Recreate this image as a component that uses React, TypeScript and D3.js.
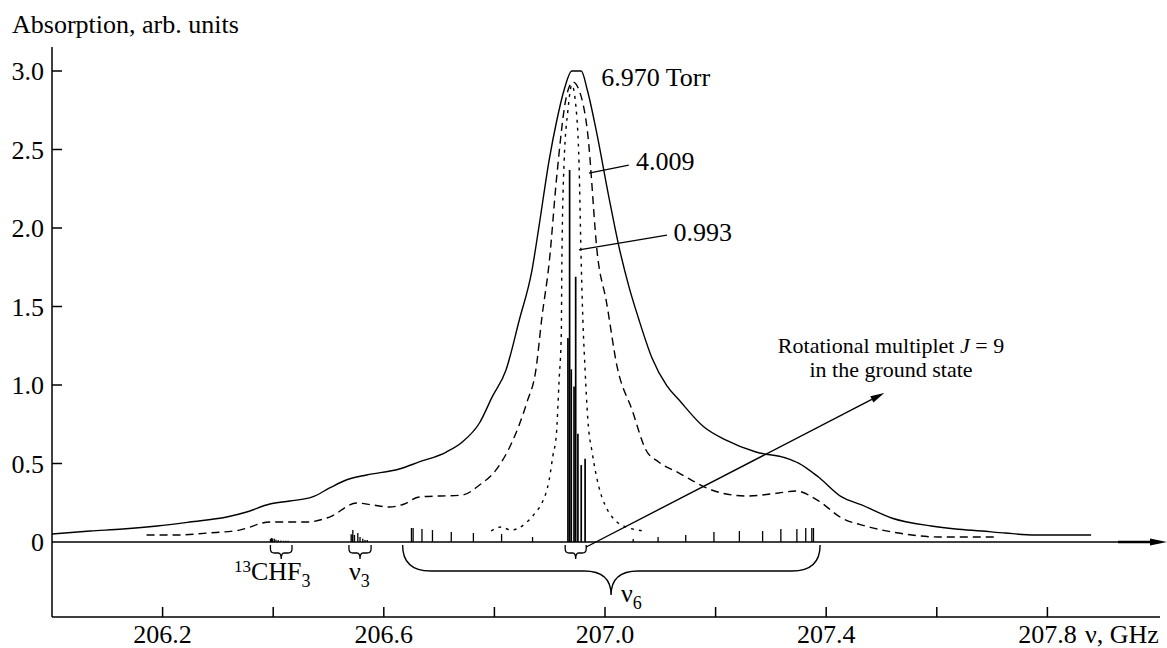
import React from "react";
import * as d3 from "d3";

// Frequency (GHz) and absorption (arb. units) samples for each pressure
const p6970: [number, number][] = [
  [206.0, 0.051], [206.069, 0.07], [206.128, 0.083], [206.19, 0.102], [206.249, 0.127],
  [206.316, 0.159], [206.352, 0.191], [206.394, 0.242], [206.43, 0.261], [206.471, 0.287],
  [206.502, 0.344], [206.532, 0.395], [206.569, 0.427], [206.628, 0.465], [206.664, 0.51],
  [206.713, 0.573], [206.742, 0.637], [206.773, 0.758], [206.796, 0.924], [206.821, 1.096],
  [206.845, 1.414], [206.868, 1.732], [206.881, 2.019], [206.899, 2.433], [206.913, 2.688],
  [206.926, 2.879], [206.94, 3.0], [206.957, 3.0], [206.968, 2.879], [206.984, 2.624],
  [207.007, 2.197], [207.025, 1.885], [207.043, 1.63], [207.061, 1.42], [207.085, 1.172],
  [207.112, 0.994], [207.134, 0.904], [207.179, 0.732], [207.218, 0.65], [207.273, 0.573],
  [207.327, 0.535], [207.35, 0.503], [207.386, 0.414], [207.428, 0.287], [207.464, 0.236],
  [207.518, 0.153], [207.59, 0.102], [207.634, 0.083], [207.681, 0.07], [207.724, 0.057],
  [207.778, 0.045], [207.879, 0.045],
];

const p4009: [number, number][] = [
  [206.171, 0.045], [206.231, 0.045], [206.28, 0.057], [206.339, 0.076], [206.394, 0.127],
  [206.46, 0.127], [206.502, 0.159], [206.551, 0.248], [206.579, 0.236], [206.61, 0.223],
  [206.637, 0.242], [206.664, 0.287], [206.742, 0.299], [206.773, 0.363], [206.803, 0.459],
  [206.832, 0.637], [206.859, 0.892], [206.875, 1.096], [206.886, 1.433], [206.899, 1.777],
  [206.913, 2.338], [206.93, 2.834], [206.942, 2.93], [206.953, 2.879], [206.968, 2.624],
  [206.987, 1.809], [207.002, 1.541], [207.022, 1.115], [207.049, 0.841], [207.074, 0.586],
  [207.097, 0.51], [207.134, 0.439], [207.193, 0.331], [207.255, 0.293], [207.314, 0.312],
  [207.345, 0.325], [207.386, 0.262], [207.428, 0.153], [207.471, 0.102], [207.531, 0.057],
  [207.603, 0.032], [207.711, 0.032],
];

const p0993: [number, number][] = [
  [206.794, 0.07], [206.812, 0.096], [206.83, 0.076], [206.857, 0.121], [206.875, 0.191],
  [206.886, 0.248], [206.899, 0.395], [206.906, 0.554], [206.912, 0.682], [206.917, 1.032],
  [206.921, 1.331], [206.922, 1.777], [206.926, 2.414], [206.933, 2.752], [206.94, 2.911],
  [206.948, 2.752], [206.953, 2.414], [206.957, 1.777], [206.96, 1.414], [206.964, 1.096],
  [206.969, 0.777], [206.977, 0.567], [206.989, 0.35], [207.0, 0.236], [207.013, 0.159],
  [207.038, 0.096], [207.074, 0.07],
];

// Line spectrum: [frequency, intensity]
const groundMultiplet: [number, number][] = [
  [206.933, 1.3], [206.936, 2.37], [206.939, 1.1], [206.944, 0.99],
  [206.947, 1.69], [206.951, 0.69], [206.957, 0.49], [206.964, 0.53],
];

const nu6Lines: [number, number][] = [
  [206.65, 0.089], [206.653, 0.089], [206.669, 0.083], [206.688, 0.076], [206.722, 0.064],
  [206.762, 0.057], [206.813, 0.051], [206.869, 0.032], [207.051, 0.019], [207.096, 0.032],
  [207.146, 0.045], [207.197, 0.064], [207.243, 0.07], [207.285, 0.07], [207.318, 0.083],
  [207.347, 0.083], [207.363, 0.089], [207.374, 0.089], [207.377, 0.089],
];

const c13Lines: [number, number][] = [
  [206.395, 0.02], [206.397, 0.025], [206.399, 0.022], [206.402, 0.02], [206.405, 0.015],
  [206.409, 0.012], [206.414, 0.01], [206.419, 0.008], [206.423, 0.008], [206.427, 0.008],
];

const nu3Lines: [number, number][] = [
  [206.541, 0.05], [206.543, 0.045], [206.544, 0.076], [206.547, 0.045], [206.553, 0.057],
  [206.557, 0.032], [206.562, 0.02], [206.566, 0.013], [206.57, 0.013],
];

const xTicks = [206.2, 206.4, 206.6, 206.8, 207.0, 207.2, 207.4, 207.6, 207.8];
const xLabels = [206.2, 206.6, 207.0, 207.4, 207.8];
const yTicks = [0.5, 1.0, 1.5, 2.0, 2.5, 3.0];
const yLabels = [0, 0.5, 1.0, 1.5, 2.0, 2.5, 3.0];

const FONT = "'Liberation Serif', 'Times New Roman', serif";

export default function App() {
  const W = 1167;
  const H = 648;
  const x = d3.scaleLinear().domain([206, 208]).range([52, 1158]);
  const y = d3.scaleLinear().domain([0, 3]).range([542, 71]);
  const line = d3
    .line<[number, number]>()
    .x((d) => x(d[0]))
    .y((d) => y(d[1]))
    .curve(d3.curveMonotoneX);

  const y0 = y(0);
  const axisTop = 47;
  const axisBottom = 617;
  const xEnd = 1160;

  const smallBrace = (a: number, b: number) => {
    const x1 = x(a);
    const x2 = x(b);
    const xc = (x1 + x2) / 2;
    const t = y0 + 3;
    const h = t + 8;
    return `M${x1},${t} V${t + 4} Q${x1},${h} ${x1 + 4},${h} H${xc - 3} Q${xc},${h} ${xc},${h + 6} Q${xc},${h} ${xc + 3},${h} H${x2 - 4} Q${x2},${h} ${x2},${t + 4} V${t}`;
  };

  const bigBrace = (() => {
    const xl = x(206.634);
    const xr = x(207.389);
    const xt = x(207.011);
    const t = y0 + 3;
    const h = 571;
    const tip = 595;
    return `M${xl},${t} Q${xl},${h} ${xl + 28},${h} H${xt - 27} Q${xt},${h} ${xt},${tip} Q${xt},${h} ${xt + 27},${h} H${xr - 28} Q${xr},${h} ${xr},${t}`;
  })();

  const sticks = (data: [number, number][], sw: number, key: string) =>
    data.map((d, i) => (
      <line
        key={key + i}
        x1={x(d[0])}
        x2={x(d[0])}
        y1={y0}
        y2={y(d[1])}
        stroke="#000"
        strokeWidth={sw}
      />
    ));

  const fmt = (v: number) => (v === 0 ? "0" : d3.format(".1f")(v));

  // arrow from the multiplet bracket to its caption
  const ax1 = x(206.966);
  const ay1 = y0 + 5;
  const ax2 = x(207.505);
  const ay2 = y(0.949);
  const ang = Math.atan2(ay2 - ay1, ax2 - ax1);
  const headL = 14;
  const headW = 3.5;
  const hx = ax2 - headL * Math.cos(ang);
  const hy = ay2 - headL * Math.sin(ang);
  const head = `M${ax2},${ay2} L${hx + headW * Math.sin(ang)},${hy - headW * Math.cos(ang)} L${hx - headW * Math.sin(ang)},${hy + headW * Math.cos(ang)} Z`;

  return (
    <svg
      width={W}
      height={H}
      style={{ position: "absolute", left: 0, top: 0, background: "#fff" }}
      fontFamily={FONT}
    >
      <rect width={W} height={H} fill="#fff" />
      {/* title */}
      <text x={12} y={33} fontSize={26}>
        Absorption, arb. units
      </text>

      {/* frame: y axis, lower x axis */}
      <line x1={52} x2={52} y1={axisTop} y2={axisBottom} stroke="#000" strokeWidth={1.5} />
      <line x1={52} x2={xEnd} y1={axisBottom} y2={axisBottom} stroke="#000" strokeWidth={1.5} />

      {/* zero line with arrow */}
      <line x1={52} x2={1118} y1={y0} y2={y0} stroke="#000" strokeWidth={1.5} />
      <line x1={1118} x2={1152} y1={y0} y2={y0} stroke="#000" strokeWidth={2.6} />
      <path d={`M1167,${y0} L1150,${y0 - 3.5} L1150,${y0 + 3.5} Z`} fill="#000" />

      {/* y ticks and labels */}
      {yTicks.map((v) => (
        <line key={"yt" + v} x1={52} x2={62} y1={y(v)} y2={y(v)} stroke="#000" strokeWidth={1.5} />
      ))}
      {yLabels.map((v) => (
        <text key={"yl" + v} x={44} y={y(v) + 9} fontSize={26} textAnchor="end">
          {fmt(v)}
        </text>
      ))}

      {/* x ticks and labels */}
      {xTicks.map((v) => (
        <line key={"xt" + v} x1={x(v)} x2={x(v)} y1={axisBottom} y2={axisBottom - 10} stroke="#000" strokeWidth={1.5} />
      ))}
      {xLabels.map((v) => (
        <text key={"xl" + v} x={x(v)} y={643} fontSize={26} textAnchor="middle">
          {d3.format(".1f")(v)}
        </text>
      ))}
      <text x={1085} y={643} fontSize={26}>
        ν, GHz
      </text>

      {/* absorption contours */}
      <path d={line(p6970) ?? ""} fill="none" stroke="#000" strokeWidth={1.4} strokeLinejoin="round" />
      <path d={line(p4009) ?? ""} fill="none" stroke="#000" strokeWidth={1.4} strokeDasharray="8,5" />
      <path d={line(p0993) ?? ""} fill="none" stroke="#000" strokeWidth={1.4} strokeDasharray="3,5" />

      {/* line spectrum */}
      {sticks(nu6Lines, 1.3, "n6")}
      {sticks(c13Lines, 1.2, "c13")}
      {sticks(nu3Lines, 1.3, "n3")}
      {sticks(groundMultiplet, 1.7, "gm")}

      {/* braces */}
      <path d={smallBrace(206.395, 206.434)} fill="none" stroke="#000" strokeWidth={1.3} />
      <path d={smallBrace(206.537, 206.577)} fill="none" stroke="#000" strokeWidth={1.3} />
      <path d={smallBrace(206.928, 206.966)} fill="none" stroke="#000" strokeWidth={1.3} />
      <path d={bigBrace} fill="none" stroke="#000" strokeWidth={1.4} />

      {/* band labels */}
      <text x={x(206.414) - 47} y={580} fontSize={26}>
        <tspan fontSize={17} dy={-8}>13</tspan>
        <tspan dy={8}>CHF</tspan>
        <tspan fontSize={18} dy={7}>3</tspan>
      </text>
      <text x={x(206.557) - 11} y={580} fontSize={26}>
        <tspan>ν</tspan>
        <tspan fontSize={18} dy={7}>3</tspan>
      </text>
      <text x={x(207.011) + 10} y={602} fontSize={26}>
        <tspan>ν</tspan>
        <tspan fontSize={18} dy={7}>6</tspan>
      </text>

      {/* pressure labels */}
      <text x={x(206.993)} y={y(2.905)} fontSize={26}>
        6.970 Torr
      </text>
      <line x1={x(206.971)} y1={y(2.35)} x2={x(207.043)} y2={y(2.4)} stroke="#000" strokeWidth={1.3} />
      <text x={x(207.056)} y={y(2.37)} fontSize={26}>
        4.009
      </text>
      <line x1={x(206.953)} y1={y(1.86)} x2={x(207.112)} y2={y(1.955)} stroke="#000" strokeWidth={1.3} />
      <text x={x(207.124)} y={y(1.92)} fontSize={26}>
        0.993
      </text>

      {/* multiplet annotation */}
      <line x1={ax1} y1={ay1} x2={hx} y2={hy} stroke="#000" strokeWidth={1.4} />
      <path d={head} fill="#000" />
      <text x={891} y={353} fontSize={22} textAnchor="middle">
        Rotational multiplet <tspan fontStyle="italic">J</tspan> = 9
      </text>
      <text x={891} y={377} fontSize={22} textAnchor="middle">
        in the ground state
      </text>
    </svg>
  );
}
